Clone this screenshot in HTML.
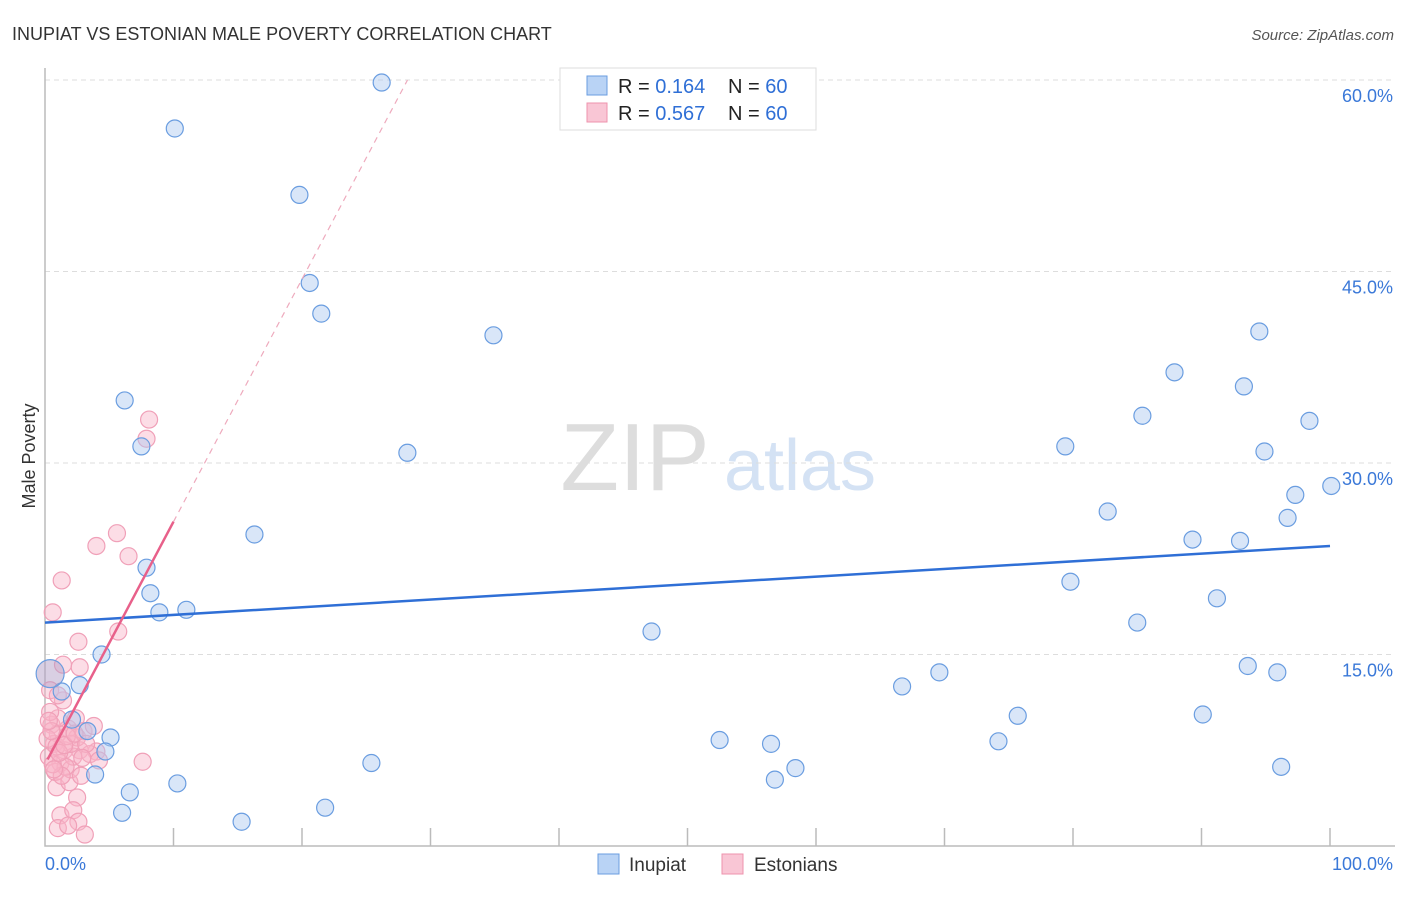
<!DOCTYPE html>
<html><head><meta charset="utf-8"><style>
body{margin:0;background:#fff;font-family:"Liberation Sans",sans-serif}
svg text{font-family:"Liberation Sans",sans-serif}
</style></head><body>
<svg id="c" width="1406" height="892" xmlns="http://www.w3.org/2000/svg">
<text x="12" y="40" font-size="18" fill="#333">INUPIAT VS ESTONIAN MALE POVERTY CORRELATION CHART</text>
<text x="1394" y="40" font-size="15" fill="#555" text-anchor="end" font-style="italic">Source: ZipAtlas.com</text>
<text x="35" y="456" font-size="18" fill="#333" text-anchor="middle" transform="rotate(-90 35 456)">Male Poverty</text>
<g><text x="635" y="490" font-size="96" fill="#ddd" text-anchor="middle" font-family="Liberation Serif">ZIP</text><text x="800" y="490" font-size="72" fill="#d4e2f4" text-anchor="middle">atlas</text></g>
<g id="grid"></g><g id="marks"></g><g id="lines"></g>
<g>
<rect x="560" y="68" width="256" height="62" fill="#fff" stroke="#ddd"/>
<rect x="587" y="76" width="20" height="19" fill="#b9d3f5" stroke="#6a9de0"/>
<rect x="587" y="103" width="20" height="19" fill="#f9c6d5" stroke="#ee93ad"/>
<text x="618" y="93" font-size="20" fill="#222">R = <tspan fill="#2f6fd6">0.164</tspan></text>
<text x="728" y="93" font-size="20" fill="#222">N = <tspan fill="#2f6fd6">60</tspan></text>
<text x="618" y="120" font-size="20" fill="#222">R = <tspan fill="#2f6fd6">0.567</tspan></text>
<text x="728" y="120" font-size="20" fill="#222">N = <tspan fill="#2f6fd6">60</tspan></text>
</g>
<g>
<rect x="598" y="854" width="21" height="20" fill="#b9d3f5" stroke="#6a9de0"/>
<text x="629" y="871" font-size="19" fill="#333">Inupiat</text>
<rect x="722" y="854" width="21" height="20" fill="#f9c6d5" stroke="#ee93ad"/>
<text x="754" y="871" font-size="19" fill="#333">Estonians</text>
</g>
</svg>
<script>
const yTicks=[15,30,45,60];
const yTickLabels=["15.0%","30.0%","45.0%","60.0%"];
const xTickLabels=["0.0%","100.0%"];
const inupiatX=[26.2,10.1,19.8,20.6,21.5,34.9,6.2,7.5,28.2,16.3,7.9,8.2,8.9,11.0,4.4,2.7,1.3,2.1,3.3,5.1,4.7,3.9,6.6,6.0,10.3,15.3,21.8,25.4,47.2,52.5,56.5,56.8,58.4,66.7,69.6,75.7,74.2,79.4,79.8,82.7,85.0,85.4,87.9,89.3,91.2,90.1,93.3,93.0,94.5,94.9,93.6,95.9,96.2,97.3,96.7,98.4,100.1,0.4];
const inupiatY=[59.8,56.2,51.0,44.1,41.7,40.0,34.9,31.3,30.8,24.4,21.8,19.8,18.3,18.5,15.0,12.6,12.1,9.9,9.0,8.5,7.4,5.6,4.2,2.6,4.9,1.9,3.0,6.5,16.8,8.3,8.0,5.2,6.1,12.5,13.6,10.2,8.2,31.3,20.7,26.2,17.5,33.7,37.1,24.0,19.4,10.3,36.0,23.9,40.3,30.9,14.1,13.6,6.2,27.5,25.7,33.3,28.2,13.5];
const estX=[5.6,4.0,6.5,1.3,0.6,5.7,2.6,1.4,2.7,7.6,8.1,7.9,1.4,0.4,2.5,1.2,2.2,2.6,1.0,1.8,3.1,0.9,1.9,2.7,4.0,0.5,1.0,0.7,1.5,0.3,1.2,2.0,0.8,1.8,2.5,3.0,1.0,0.4,2.2,1.6,3.5,2.8,1.3,0.6,2.0,4.2,0.2,1.0,3.2,2.4,0.9,1.7,0.5,2.9,1.1,0.3,3.8,1.5,0.7,2.3];
const estY=[24.5,23.5,22.7,20.8,18.3,16.8,16.0,14.2,14.0,6.6,33.4,31.9,11.4,12.2,3.8,2.4,2.8,1.9,1.4,1.6,0.9,4.6,5.0,7.5,7.4,9.5,8.8,8.0,7.5,7.0,6.5,6.0,5.8,9.2,8.5,9.0,10.0,10.5,7.0,6.2,7.2,5.5,5.5,6.4,8.0,6.7,8.4,11.8,8.0,10.0,7.8,8.6,9.0,6.9,7.3,9.8,9.4,7.9,6.0,8.8];
const blueTrend=[17.5,23.5];
const pinkTrend={a:6.4,b:1.9};
const X=v=>45+v*12.85, Y=v=>846-v*12.767;
const NS="http://www.w3.org/2000/svg";
function mk(t,a,p){const e=document.createElementNS(NS,t);for(const k in a)e.setAttribute(k,a[k]);p.appendChild(e);return e;}
const grid=document.getElementById('grid');
yTicks.forEach((t,i)=>{
 const l=mk('line',{x1:45,x2:1395,y1:Y(t),y2:Y(t),stroke:'#ddd','stroke-dasharray':'5,4'},grid);
 
 
 const tx=mk('text',{x:1393,y:Y(t)+22,'font-size':18,fill:'#3a78d8','text-anchor':'end'},grid);
 tx.textContent=yTickLabels[i];
 
 
});
const ax=mk('path',{d:'M45,68 V846 H1395',stroke:'#bbb',fill:'none','stroke-width':1.5},grid);


for(let i=1;i<=10;i++){
 const t=mk('line',{x1:X(i*10),x2:X(i*10),y1:828,y2:846,stroke:'#bbb','stroke-width':1.5},grid);
 
 
}
[[0,'start',45],[100,'end',1393]].forEach((d,i)=>{
 const t=mk('text',{x:d[2],y:870,'font-size':18,fill:'#3a78d8','text-anchor':d[1]},grid);
 t.textContent=xTickLabels[i];
 
 
});
const marks=document.getElementById('marks');
estX.forEach((v,i)=>{
 const c=mk('circle',{cx:X(v),cy:Y(estY[i]),r:8.5,fill:'rgba(248,180,200,0.45)',stroke:'#f0a0b8','stroke-width':1.2},marks);
 
 
});
inupiatX.forEach((v,i)=>{
 const big=i===inupiatX.length-1;
 const c=mk('circle',{cx:X(v),cy:Y(inupiatY[i]),r:big?14:8.5,fill:big?'rgba(180,160,200,0.5)':'rgba(170,200,240,0.45)',stroke:'#6a9de0','stroke-width':1.2},marks);
 
 
});
const lines=document.getElementById('lines');
const bl=mk('line',{x1:X(0),y1:Y(blueTrend[0]),x2:X(100),y2:Y(blueTrend[1]),stroke:'#2f6fd6','stroke-width':2.5},lines);


const pe=(60-pinkTrend.a)/pinkTrend.b;
const pd=mk('line',{x1:X(10),y1:Y(pinkTrend.a+pinkTrend.b*10),x2:X(pe),y2:Y(60),stroke:'#eeaabd','stroke-width':1.2,'stroke-dasharray':'6,5'},lines);


const ps=mk('line',{x1:X(0.2),y1:Y(pinkTrend.a+pinkTrend.b*0.2),x2:X(10),y2:Y(pinkTrend.a+pinkTrend.b*10),stroke:'#e8608a','stroke-width':2.5},lines);


</script>
</body></html>
